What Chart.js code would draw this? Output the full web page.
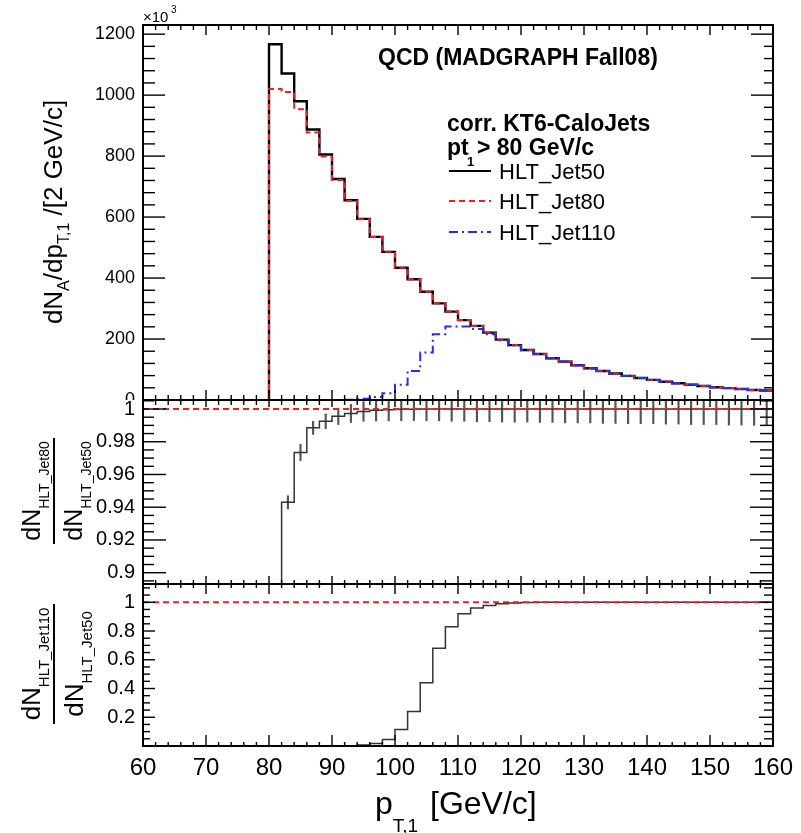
<!DOCTYPE html>
<html>
<head>
<meta charset="utf-8">
<title>Leading jet pT per HLT path</title>
<script src="https://cdn.jsdelivr.net/npm/chart.js@4.4.1/dist/chart.umd.min.js"></script>
<style>
  html, body { margin: 0; padding: 0; background: #fff; }
  #wrap { position: relative; width: 801px; height: 833px; overflow: hidden; }
  #wrap canvas { position: absolute; left: 0; background: #fff; }
</style>
</head>
<body>
<div id="wrap">
  <canvas id="spectrum" width="801" height="410" style="top:0"></canvas>
  <canvas id="ratio80" width="801" height="190" style="top:400px"></canvas>
  <canvas id="ratio110" width="801" height="249" style="top:584px"></canvas>
</div>
<script>
/* ================================
   Data
================================ */
// 2 GeV/c bins, filled from pT = 80 GeV/c up to 160 GeV/c
const binWidth = 2;
const firstEdge = 80;
const xRange = [60, 160];
const xTicks = [60, 70, 80, 90, 100, 110, 120, 130, 140, 150, 160];

// dN/dpT per bin, in units of 10^3
const jet50 = [1167, 1071, 980, 887, 805, 725, 655, 594, 535, 486,
               434, 396, 355, 317, 290, 262, 243, 221, 198, 180,
               164, 151, 137, 126, 114, 104, 95, 87, 79, 72,
               66, 60, 55, 50, 46, 42, 39, 36, 33, 31];
const jet80 = [1020, 1010, 954, 877, 799, 722, 653, 593, 535, 486,
               434, 396, 355, 317, 290, 262, 243, 221, 198, 180,
               164, 151, 137, 126, 114, 104, 95, 87, 79, 72,
               66, 60, 55, 50, 46, 42, 39, 36, 33, 31];
const jet110 = [0, 0, 0, 0, 0, 0, 1, 4, 10, 22,
                50, 95, 156, 216, 241, 241, 233, 216, 196, 179,
                163, 151, 137, 126, 114, 104, 95, 87, 79, 72,
                66, 60, 55, 50, 46, 42, 39, 36, 33, 31];

// ratios to HLT_Jet50
const ratio80 = [0.874, 0.943, 0.9735, 0.9885, 0.9925, 0.9955, 0.9973, 0.9985, 0.9992, 0.9996,
                 0.9998, 0.9999, 1, 1, 1, 1, 1, 1, 1, 1,
                 1, 1, 1, 1, 1, 1, 1, 1, 1, 1,
                 1, 1, 1, 1, 1, 1, 1, 1, 1, 1];
const ratio80Err = [0.002, 0.004, 0.005, 0.004, 0.0045, 0.005, 0.0055, 0.006, 0.0065, 0.0068,
                    0.007, 0.007, 0.0072, 0.0072, 0.0075, 0.0075, 0.0078, 0.0078, 0.008, 0.008,
                    0.008, 0.0082, 0.0082, 0.0085, 0.0085, 0.0085, 0.0088, 0.0088, 0.009, 0.009,
                    0.009, 0.0092, 0.0092, 0.0095, 0.0095, 0.0095, 0.0098, 0.0098, 0.01, 0.01];
const ratio110 = [0, 0, 0, 0, 0, 0, 0.002, 0.007, 0.018, 0.045,
                  0.115, 0.24, 0.44, 0.68, 0.83, 0.92, 0.96, 0.978, 0.99, 0.995,
                  0.998, 1, 1, 1, 1, 1, 1, 1, 1, 1,
                  1, 1, 1, 1, 1, 1, 1, 1, 1, 1];
const unityLine = [1, 1];

const spectrumTicks = [0, 200, 400, 600, 800, 1000, 1200];
const ratio80Ticks = [0.9, 0.92, 0.94, 0.96, 0.98, 1];
const ratio110Ticks = [0, 0.2, 0.4, 0.6, 0.8, 1];

const legendItems = ['HLT_Jet50', 'HLT_Jet80', 'HLT_Jet110'];

/* ================================
   Styles
================================ */
const FONT = '"Liberation Sans", Arial, Helvetica, sans-serif';
const RED = '#e4222b';
const BLUE = '#2630e0';
const RED_DASH = [6, 4];
const BLUE_DASH = [9, 4, 2, 4];
const AXIS_W = 143;   // left margin, up to the frame
const RIGHT_PAD = 28;

/* ================================
   Helpers
================================ */
// histogram outline: left edges plus the closing right edge
function histPoints(values) {
  const pts = [{ x: firstEdge, y: 0 }];
  values.forEach((v, i) => pts.push({ x: firstEdge + i * binWidth, y: v }));
  pts.push({ x: firstEdge + values.length * binWidth, y: values[values.length - 1] });
  return pts;
}

function unityPoints() {
  return unityLine.map((v, i) => ({ x: xRange[i], y: v }));
}

function clearPad(s) {
  s.paddingTop = 0; s.paddingBottom = 0; s.paddingLeft = 0; s.paddingRight = 0;
}

function fmt(v) {
  return String(+v.toFixed(3));
}

function xScale(show) {
  return {
    type: 'linear', min: xRange[0], max: xRange[1], offset: false, display: show,
    grid: { display: false, drawTicks: false },
    border: { display: false },
    ticks: { color: '#000', font: { family: FONT, size: 24 }, padding: 8, autoSkip: false, maxRotation: 0 },
    afterBuildTicks: s => { s.ticks = xTicks.map(v => ({ value: v })); },
    afterFit: s => { if (show) s.height = 87; clearPad(s); }
  };
}

function yScale(min, max, ticks, size, hideZero) {
  return {
    type: 'linear', min, max,
    grid: { display: false, drawTicks: false },
    border: { display: false },
    ticks: {
      color: '#000', font: { family: FONT, size }, padding: 8, autoSkip: false,
      callback: v => (hideZero && v === 0) ? '' : fmt(v)
    },
    afterBuildTicks: s => { s.ticks = ticks.map(v => ({ value: v })); },
    afterFit: s => { s.width = AXIS_W; clearPad(s); }
  };
}

function stroke(ctx, x1, y1, x2, y2) {
  ctx.beginPath(); ctx.moveTo(x1, y1); ctx.lineTo(x2, y2); ctx.stroke();
}

function rich(ctx, x, y, parts) {
  let cx = x;
  for (const [t, size, dy = 0, bold = false] of parts) {
    ctx.font = `${bold ? 'bold ' : ''}${size}px ${FONT}`;
    ctx.fillText(t, cx, y + dy);
    cx += ctx.measureText(t).width;
  }
  return cx - x;
}

function richWidth(ctx, parts) {
  let w = 0;
  for (const [t, size, , bold = false] of parts) {
    ctx.font = `${bold ? 'bold ' : ''}${size}px ${FONT}`;
    w += ctx.measureText(t).width;
  }
  return w;
}

function rotatedTitle(ctx, cx, cy, parts) {
  ctx.save();
  ctx.translate(cx, cy);
  ctx.rotate(-Math.PI / 2);
  rich(ctx, -richWidth(ctx, parts) / 2, 0, parts);
  ctx.restore();
}

function fractionTitle(ctx, cx, cy, num, den, barLen, numY, denY) {
  ctx.save();
  ctx.translate(cx, cy);
  ctx.rotate(-Math.PI / 2);
  rich(ctx, -richWidth(ctx, num) / 2, numY, num);
  rich(ctx, -richWidth(ctx, den) / 2, denY, den);
  ctx.lineWidth = 2;
  stroke(ctx, -barLen / 2, 0, barLen / 2, 0);
  ctx.restore();
}

/* ================================
   Frame + inward ticks (all four sides)
================================ */
function tickValues(min, max, minor, major) {
  const per = Math.round(major / minor);
  const out = [];
  for (let k = Math.ceil(min / minor - 1e-6); k <= Math.floor(max / minor + 1e-6); k++) {
    out.push({ v: k * minor, major: k % per === 0 });
  }
  return out;
}

const frameTicks = {
  id: 'frameTicks',
  afterDatasetsDraw(chart, args, o) {
    const { ctx, chartArea: a, scales: { x, y } } = chart;
    ctx.save();
    ctx.strokeStyle = '#000';
    ctx.lineWidth = 1.4;
    tickValues(x.min, x.max, o.xMinor, o.xMajor).forEach(t => {
      const px = x.getPixelForValue(t.v);
      stroke(ctx, px, a.bottom, px, a.bottom - (t.major ? o.xBottom[0] : o.xBottom[1]));
      stroke(ctx, px, a.top, px, a.top + (t.major ? o.xTop[0] : o.xTop[1]));
    });
    tickValues(y.min, y.max, o.yMinor, o.yMajor).forEach(t => {
      const py = y.getPixelForValue(t.v);
      stroke(ctx, a.left, py, a.left + (t.major ? o.yLeft[0] : o.yLeft[1]), py);
      stroke(ctx, a.right, py, a.right - (t.major ? o.yRight[0] : o.yRight[1]), py);
    });
    ctx.lineWidth = 2;
    ctx.strokeRect(a.left, a.top, a.right - a.left, a.bottom - a.top);
    ctx.restore();
  }
};

const annotations = {
  id: 'annotations',
  afterDraw(chart, args, o) {
    const ctx = chart.ctx;
    ctx.save();
    ctx.fillStyle = '#000';
    ctx.strokeStyle = '#000';
    ctx.textBaseline = 'alphabetic';
    o.draw(ctx);
    ctx.restore();
  }
};

function baseOptions(pad, yOpts, ticks, texts) {
  return {
    responsive: false,
    animation: false,
    devicePixelRatio: 1,
    events: [],
    layout: { padding: pad },
    plugins: {
      legend: { display: false },
      tooltip: { enabled: false },
      frameTicks: ticks,
      annotations: { draw: texts }
    },
    scales: yOpts
  };
}

/* ================================
   Top: spectrum
================================ */
function drawSpectrumText(ctx) {
  // y axis title
  rotatedTitle(ctx, 62, 212, [
    ['dN', 26], ['A', 16, 7], ['/dp', 26], ['T,1', 16, 7], [' /[2 GeV/c]', 26]
  ]);
  // exponent
  rich(ctx, 143, 22, [['\u00d710', 15]]);
  rich(ctx, 171, 13, [['3', 10]]);

  ctx.font = `bold 23px ${FONT}`;
  ctx.fillText('QCD (MADGRAPH Fall08)', 378, 65);
  ctx.fillText('corr. KT6-CaloJets', 447, 131);
  ctx.fillText('pt', 447, 155);
  ctx.font = `bold 13px ${FONT}`;
  ctx.fillText('1', 467, 166);
  ctx.font = `bold 23px ${FONT}`;
  ctx.fillText('> 80 GeV/c', 477, 155);

  // legend
  const rows = [171, 201, 232];
  const styles = [
    { color: '#000', dash: [], width: 2 },
    { color: RED, dash: RED_DASH, width: 2 },
    { color: BLUE, dash: BLUE_DASH, width: 2 }
  ];
  legendItems.forEach((name, i) => {
    ctx.save();
    ctx.strokeStyle = styles[i].color;
    ctx.lineWidth = styles[i].width;
    ctx.setLineDash(styles[i].dash);
    stroke(ctx, 449, rows[i], 491, rows[i]);
    ctx.restore();
    ctx.font = `22px ${FONT}`;
    ctx.fillText(name, 499, rows[i] + 8);
  });
}

new Chart(document.getElementById('spectrum'), {
  type: 'line',
  data: {
    datasets: [
      { label: legendItems[0], data: histPoints(jet50), borderColor: '#000', borderWidth: 2.4,
        stepped: true, pointRadius: 0, order: 3 },
      { label: legendItems[1], data: histPoints(jet80), borderColor: RED, borderWidth: 2,
        borderDash: RED_DASH, stepped: true, pointRadius: 0, order: 2 },
      { label: legendItems[2], data: histPoints(jet110), borderColor: BLUE, borderWidth: 2,
        borderDash: BLUE_DASH, stepped: true, pointRadius: 0, order: 1 }
    ]
  },
  options: baseOptions(
    { top: 25, bottom: 10, left: 0, right: RIGHT_PAD },
    { x: xScale(false), y: yScale(0, 1230, spectrumTicks, 18, false) },
    { xMinor: 2, xMajor: 10, yMinor: 40, yMajor: 200,
      xBottom: [10, 5], xTop: [10, 5], yLeft: [22, 12], yRight: [22, 9] },
    drawSpectrumText
  ),
  plugins: [frameTicks, annotations]
});

/* ================================
   Middle: HLT_Jet80 / HLT_Jet50
================================ */
new Chart(document.getElementById('ratio80'), {
  type: 'line',
  data: {
    datasets: [
      { type: 'bar', data: ratio80.map((r, i) => ({ x: firstEdge + (i + 0.5) * binWidth, y: [r - ratio80Err[i], r + ratio80Err[i]] })),
        backgroundColor: '#555', barThickness: 1.5, clip: 0, order: 3 },
      { data: histPoints(ratio80), borderColor: '#333', borderWidth: 1.5,
        stepped: true, pointRadius: 0, order: 2 },
      { data: unityPoints(), borderColor: RED, borderWidth: 2, borderDash: RED_DASH,
        pointRadius: 0, order: 1 }
    ]
  },
  options: baseOptions(
    { top: 0, bottom: 6, left: 0, right: RIGHT_PAD },
    { x: xScale(false), y: yScale(0.8931, 1.0055, ratio80Ticks, 20, false) },
    { xMinor: 2, xMajor: 10, yMinor: 0.005, yMajor: 0.02,
      xBottom: [8, 4], xTop: [7, 5], yLeft: [23, 11], yRight: [23, 13] },
    ctx => fractionTitle(ctx, 54, 91,
      [['dN', 25], ['HLT_Jet80', 14, 9]],
      [['dN', 25], ['HLT_Jet50', 14, 9]], 106, -14, 28)
  ),
  plugins: [frameTicks, annotations]
});

/* ================================
   Bottom: HLT_Jet110 / HLT_Jet50
================================ */
new Chart(document.getElementById('ratio110'), {
  type: 'line',
  data: {
    datasets: [
      { data: histPoints(ratio110), borderColor: '#333', borderWidth: 1.5,
        stepped: true, pointRadius: 0, order: 2 },
      { data: unityPoints(), borderColor: RED, borderWidth: 2, borderDash: RED_DASH,
        pointRadius: 0, order: 1 }
    ]
  },
  options: baseOptions(
    { top: 0, bottom: 0, left: 0, right: RIGHT_PAD },
    { x: xScale(true), y: yScale(0, 1.127, ratio110Ticks, 20, true) },
    { xMinor: 2, xMajor: 10, yMinor: 0.05, yMajor: 0.2,
      xBottom: [11, 4], xTop: [10, 4], yLeft: [12, 7], yRight: [14, 9] },
    ctx => {
      fractionTitle(ctx, 54, 80,
        [['dN', 26], ['HLT_Jet110', 15, 9]],
        [['dN', 26], ['HLT_Jet50', 15, 9]], 120, -14, 29);
      // x axis title
      const w = rich(ctx, 375, 230, [['p', 32]]);
      rich(ctx, 375 + w, 248, [['T,1', 19]]);
      rich(ctx, 430, 230, [['[GeV/c]', 32]]);
    }
  ),
  plugins: [frameTicks, annotations]
});
</script>
</body>
</html>
